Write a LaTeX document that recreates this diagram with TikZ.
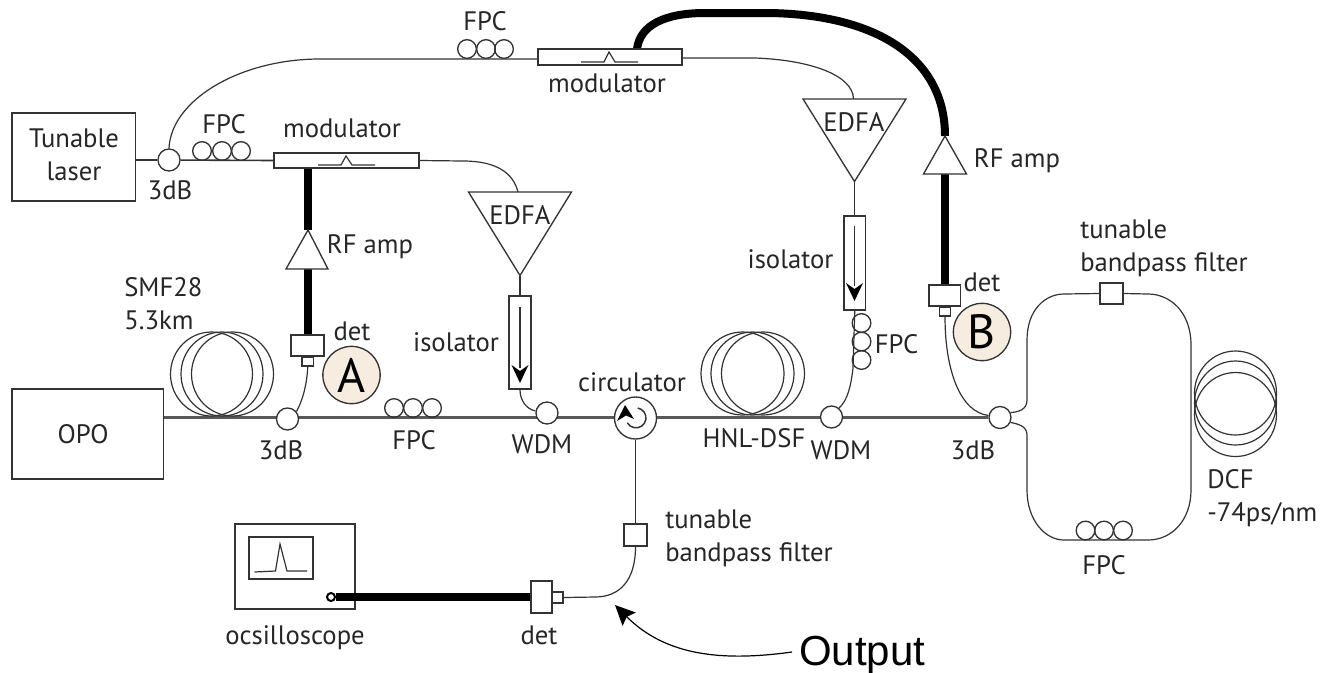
\documentclass[tikz,border=0pt]{standalone}
\usepackage{fontspec}
\setmainfont{PT Sans}
\newfontfamily\arialfont{Liberation Sans}
\usetikzlibrary{backgrounds,fit,arrows.meta}
\definecolor{ln}{HTML}{333333}
\definecolor{tag}{HTML}{F6ECE0}
\tikzset{
  lbl/.style={inner sep=0pt,font=\fontsize{20}{24.75}\selectfont,text=black!85},
  tagc/.style={circle,draw=ln,line width=1pt,fill=tag,minimum size=43pt,inner sep=0pt,font=\fontsize{36}{36}\selectfont},
  box/.style={draw=ln,line width=1.1pt,fill=white,inner sep=0pt},
  coupler/.style={circle,draw=ln,line width=1pt,fill=white,minimum size=16.5pt,inner sep=0pt},
  fpcring/.style={circle,draw=ln,line width=1pt,minimum size=14pt,inner sep=0pt},
  fiber/.style={draw=ln,line width=0.9pt},
  mainfiber/.style={draw=black!65,line width=1.7pt},
  rf/.style={draw=black,line width=6pt},
  thin/.style={draw=ln,line width=0.9pt},
  amp/.style={draw=ln,line width=1pt,fill=white,line join=miter},
}
\begin{document}
\begin{tikzpicture}[x=0.75pt,y=-0.75pt]
\useasboundingbox (0,0) rectangle (1323,672);
% boxes
\node[box,fit={(12,113)(135.5,201)}] (laser) {};
\node[box,fit={(12,389)(163.5,479)}] (opo) {};
\node[box,fit={(274,153)(419,168)}] (modA) {};
\node[box,fit={(538,49)(682,65)}] (modB) {};
\node[box,fit={(291,335)(324,356)}] (detA) {};
\node[box,fit={(302,357)(313.5,366)}] (detAs) {};
\node[box,fit={(929,285)(960.5,306)}] (detB) {};
\node[box,fit={(939.5,307)(950.5,316)}] (detBs) {};
\node[box,fit={(531,581)(552,613)}] (detC) {};
\node[box,fit={(552,592)(563,603)}] (detCs) {};
\node[box,fit={(1100,283)(1123,304)}] (filtT) {};
\node[box,fit={(624,524)(647,546)}] (filtL) {};
\node[box,fit={(509,296)(531,389)}] (isoA) {};
\node[box,fit={(844,216)(865.5,310)}] (isoB) {};
\node[box,fit={(235,524)(355,609)}] (scope) {};
\node[box,fit={(249,537)(313,579)}] (screen) {};
% couplers
\node[coupler] (cpL) at (169,160) {};
\node[coupler] (cpA) at (287.5,419) {};
\node[coupler] (wdmA) at (547,413) {};
\node[coupler] (wdmB) at (831.5,417) {};
\node[coupler] (cpB) at (1000,417.5) {};
\node[circle,draw=ln,line width=1pt,fill=white,minimum size=31.5pt,inner sep=0pt] (circ) at (635.5,418) {};
\node[circle,draw=black,line width=1.5pt,fill=white,minimum size=6pt,inner sep=0pt] (jack) at (331,597) {};
% FPC rings
\foreach \n/\x/\y in {a1/202/151,a2/222/151,a3/241/151,b1/467/49,b2/486/49,b3/504/49,c1/394/408,c2/413/408,c3/432/408,d1/1085.5/530.5,d2/1104/530.5,d3/1123/530.5,e1/861.5/323,e2/861.5/341.5,e3/861.5/360}
  \node[fpcring] (fpc\n) at (\x,\y) {};
% coils
\foreach \x in {211.5,222,232.5} \draw[thin] (\x,374) ellipse [x radius=41,y radius=42];
\foreach \x in {742.5,752.5,763} \draw[thin] (\x,373.5) ellipse [x radius=41.5,y radius=41.5];
\foreach \y in {393,403,414.5} \draw[thin] (1235.5,\y) ellipse [x radius=41,y radius=42];
% modulator squiggles
\draw[thin] (318,165) -- (341,165) -- (346,156) -- (352,165) -- (375,165);
\draw[thin] (581,62) -- (604,62) -- (609,52) -- (615,62) -- (638,62);
% amplifiers
\coordinate (tipA) at (308,230);
\coordinate (baseA) at (308,269);
\coordinate (tipB) at (945,136);
\coordinate (baseB) at (945,174);
\draw[amp] (tipA) -- (328,269) -- (286,269) -- cycle;
\draw[amp] (tipB) -- (966.5,174) -- (923.5,174) -- cycle;
\coordinate (edfaAin) at (518,192);
\coordinate (edfaAout) at (520,275.5);
\coordinate (edfaBin) at (853.5,99);
\coordinate (edfaBout) at (854.5,181.5);
\draw[amp] (468.5,192) -- (571.5,192) -- (edfaAout) -- cycle;
\draw[amp] (803,99) -- (906,99) -- (edfaBout) -- cycle;
% isolator arrows
\draw[thin] (520,307) -- (520,368);
\fill[black] (511.5,365) -- (520,371) -- (528.5,365) -- (520,383) -- cycle;
\draw[thin] (854.5,226) -- (854.5,286);
\fill[black] (846,283) -- (854.5,289) -- (863,283) -- (854.5,301) -- cycle;
% circulator swirl
\draw[thin,line width=1.1pt] (637.7,408) arc (-80:150:10);
\fill[black] (625,405) -- (634,419) -- (626,415.5) -- (617,421) -- cycle;
% scope trace
\draw[thin] (254.5,572) -- (275.5,571) -- (280,544) -- (287,571) -- (307,571);
% labels
\node[lbl,align=center] (tLaser) at (74,155) {Tunable\\laser};
\node[lbl] (tOPO) at (83,434) {OPO};
\node[lbl] (tFpcA) at (224,124) {FPC};
\node[lbl] (t3dbL) at (170,190) {3dB};
\node[lbl] (tModA) at (342,128) {modulator};
\node[lbl] (tFpcB) at (485,21) {FPC};
\node[lbl] (tModB) at (607,83) {modulator};
\node[lbl] (tEdfaA) at (520,215) {EDFA};
\node[lbl] (tEdfaB) at (854,122) {EDFA};
\node[lbl] (tRfA) at (370,247) {RF amp};
\node[lbl] (tRfB) at (1017,161) {RF amp};
\node[lbl] (tDetA) at (352,331) {det};
\node[lbl] (tDetB) at (982,282) {det};
\node[lbl,align=left,anchor=west] (tSmf) at (124,304) {SMF28\\5.3km};
\node[lbl] (tIsoA) at (456,342) {isolator};
\node[lbl] (tIsoB) at (790.5,259) {isolator};
\node[lbl] (t3dbA) at (281,450) {3dB};
\node[lbl] (tFpcC) at (414,440) {FPC};
\node[lbl] (tWdmA) at (542,444) {WDM};
\node[lbl] (tCirc) at (632,382) {circulator};
\node[lbl] (tHnl) at (754,438) {HNL-DSF};
\node[lbl] (tWdmB) at (841,450) {WDM};
\node[lbl] (tFpcE) at (896.5,344) {FPC};
\node[lbl] (t3dbB) at (973,450) {3dB};
\node[lbl,align=left,anchor=west] (tFiltT) at (1080,248.5) {tunable\\bandpass filter};
\node[lbl,align=left,anchor=west] (tFiltL) at (665,538.5) {tunable\\bandpass filter};
\node[lbl,align=left,anchor=west] (tDcf) at (1207,498) {DCF\\-74ps/nm};
\node[lbl] (tFpcD) at (1104,565) {FPC};
\node[lbl] (tDetC) at (539,635) {det};
\node[lbl] (tScope) at (295,638) {ocsilloscope};
\node[tagc] (tagA) at (351.5,375) {A};
\node[tagc] (tagB) at (982,332) {B};
\node[inner sep=0pt,anchor=base west,font=\arialfont\fontsize{31.5}{33}\selectfont] (tOut) at (799,665) {Output};
\coordinate (outFrom) at (792,652);
\coordinate (outTip) at (615,605);
% thick cable into the oscilloscope, over its box
\draw[rf] (detC.west) -- (jack.east);
% connectors
\begin{scope}[on background layer]
  \draw[mainfiber] (opo.east |- cpB) -- (cpB);
  \draw[fiber] (laser.east |- cpL) -- (cpL);
  \draw[fiber,line width=1.2pt] (cpL) -- (modA.west);
  \draw[fiber] (cpL.north) .. controls (171,100) and (240,59) .. (320,59) -- (modB.west |- fpcb2.south);
  \draw[fiber] (modA.east) -- (463,161) .. controls (495,161) and (513,172) .. (edfaAin);
  \draw[fiber] (modB.east |- 0,58) -- (755,58) .. controls (810,60) and (853,75) .. (edfaBin);
  \draw[rf] (308,168) -- (tipA);
  \draw[rf] (baseA) -- (308,335);
  \draw[rf] (637,49) .. controls (640,25) and (665,13) .. (705,13) -- (770,13) .. controls (880,15) and (945,60) .. (tipB);
  \draw[rf] (baseB) -- (945,285);
  \draw[fiber] (detAs.south) .. controls (307,385) and (302,402) .. (cpA.40);
  \draw[fiber] (edfaAout) -- (edfaAout |- isoA.north);
  \draw[fiber] (edfaBout) -- (edfaBout |- isoB.north);
  \draw[fiber] (isoA.south) .. controls (520,400) and (526,409) .. (wdmA.170);
  \draw[fiber] (isoB.south) -- (853,368) .. controls (851,385) and (848,400) .. (wdmB.50);
  \draw[fiber] (detBs.south) .. controls (945,370) and (960,412) .. (cpB.170);
  \draw[fiber] (cpB.25) .. controls (1018,412) and (1027,410) .. (1027,400) -- (1027,340) .. controls (1027,310) and (1045,294) .. (1064,294) -- (filtT.west);
  \draw[fiber] (filtT.east) -- (1148,294) .. controls (1170,294) and (1191,312) .. (1191,345) -- (1191,490) .. controls (1191,520) and (1172,540) .. (1148,540) -- (1064,540) .. controls (1045,540) and (1027,520) .. (1027,490) -- (1027,435) .. controls (1027,426) and (1018,424) .. (cpB.-25);
  \draw[fiber] (circ.south) -- (filtL.north);
  \draw[fiber] (filtL.south) .. controls (635.5,580) and (620,597) .. (595,597) -- (detCs.east);
  \draw[black,line width=0.9pt,-{Stealth[length=15pt,width=14pt,inset=2.5pt]}] (outFrom) .. controls (720,662) and (665,655) .. (outTip);
\end{scope}
\end{tikzpicture}
\end{document}
